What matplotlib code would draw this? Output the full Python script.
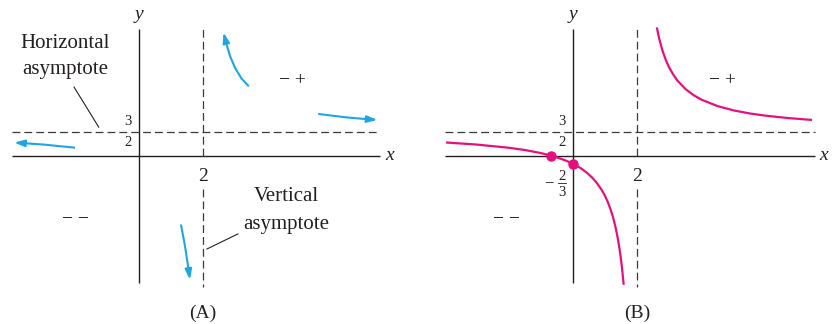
#!/usr/bin/env python3

import matplotlib
matplotlib.use("Agg")
import matplotlib.pyplot as plt

# values
h_asym = 1.5   # horizontal asymptote y = 3/2
v_asym = 2.0   # vertical asymptote x = 2
x_int = -2 / 3
y_int = -0.5

# graph (B): the two branches
left_x = [-3.9, -3.0, -2.0, -1.5, -1.0, -0.667, -0.5, -0.3, -0.15, 0.0, 0.15,
          0.3, 0.45, 0.6, 0.75, 0.9, 1.0, 1.1, 1.18, 1.25, 1.3, 1.35, 1.4,
          1.45, 1.49, 1.52, 1.55, 1.58]
left_y = [0.82, 0.70, 0.50, 0.36, 0.17, 0.0, -0.10, -0.24, -0.36, -0.50,
          -0.66, -0.85, -1.08, -1.36, -1.70, -2.14, -2.50, -2.94, -3.38,
          -3.83, -4.21, -4.65, -5.17, -5.77, -6.34, -6.83, -7.39, -8.0]
right_x = [2.62, 2.64, 2.66, 2.7, 2.75, 2.8, 2.9, 3.0, 3.12, 3.25, 3.5, 3.75,
           4.0, 4.5, 5.0, 5.5, 6.0, 6.7, 7.4]
right_y = [7.95, 7.75, 7.55, 7.21, 6.83, 6.50, 5.94, 5.50, 5.08, 4.70, 4.17,
           3.79, 3.50, 3.10, 2.83, 2.64, 2.50, 2.35, 2.24]

# graph (A): the four arrows showing end behaviour
arrow_up_x = [3.43, 3.2, 3.0, 2.85, 2.73, 2.64]
arrow_up_y = [4.34, 4.83, 5.50, 6.20, 7.00, 7.70]
arrow_right_x = [5.6, 6.5, 7.45]
arrow_right_y = [2.61, 2.39, 2.23]
arrow_left_x = [-2.0, -3.0, -3.9]
arrow_left_y = [0.50, 0.70, 0.82]
arrow_down_x = [1.31, 1.42, 1.51, 1.56, 1.59]
arrow_down_y = [-4.30, -5.45, -6.60, -7.30, -7.75]

BLUE = "#1ea6e0"
MAGENTA = "#e5107f"
INK = "#231f20"
SERIF = "Liberation Serif"

plt.rcParams["font.family"] = SERIF


def setup_axes(fig, rect, x0, sx, width_px, y0=155.7, sy=16.0):
  """Axes whose data units map to fixed pixel scales, origin at (x0, y0) px."""
  ax = fig.add_axes(rect)
  ax.set_xlim(-x0 / sx, (width_px - x0) / sx)
  ax.set_ylim((y0 - 324) / sy, y0 / sy)
  ax.axis("off")
  return ax


def draw_frame(ax, x_right):
  # coordinate axes
  ax.plot([-3.98, 7.53], [0, 0], color=INK, lw=1.0, solid_capstyle="butt")
  ax.plot([0, 0], [-7.96, 7.9], color=INK, lw=1.0, solid_capstyle="butt")
  # asymptotes
  dash = dict(color="#3a3a3a", lw=0.9, dashes=(6.3, 3.2))
  ax.plot([-3.98, 7.53], [h_asym, h_asym], **dash)
  ax.plot([v_asym, v_asym], [0, 8.0], **dash)
  ax.plot([v_asym, v_asym], [-2.05, -8.2], **dash)

  ax.text(0, 8.85, "y", fontsize=14, style="italic", ha="center", va="center", color=INK)
  ax.text(x_right, 0, "x", fontsize=14, style="italic", ha="center", va="center", color=INK)
  ax.text(v_asym, -1.27, "2", fontsize=14, ha="center", va="center", color=INK)
  ax.text(-0.34, 2.12, "3", fontsize=10.5, ha="center", va="center", color=INK)
  ax.text(-0.34, 0.8, "2", fontsize=10.5, ha="center", va="center", color=INK)


def draw_arrow(ax, xs, ys):
  ax.plot(xs[:-1], ys[:-1], color=BLUE, lw=1.5, solid_capstyle="butt")
  ax.annotate("", xy=(xs[-1], ys[-1]), xytext=(xs[-2], ys[-2]),
              arrowprops=dict(arrowstyle="-|>,head_length=0.6,head_width=0.2",
                              color=BLUE, lw=1.5, shrinkA=0, shrinkB=0))


def run():
  fig = plt.figure(figsize=(8.32, 3.24), dpi=100)

  # ---- panel (A)
  ax = setup_axes(fig, [0, 0, 0.5, 1], x0=139.0, sx=32.0, width_px=416)
  draw_frame(ax, 7.84)
  for xs, ys in [(arrow_up_x, arrow_up_y), (arrow_right_x, arrow_right_y),
                 (arrow_left_x, arrow_left_y), (arrow_down_x, arrow_down_y)]:
    draw_arrow(ax, xs, ys)

  ax.text(-2.31, 7.04, "Horizontal", fontsize=15, ha="center", va="center", color=INK)
  ax.text(-2.31, 5.36, "asymptote", fontsize=15, ha="center", va="center", color=INK)
  ax.plot([-2.03, -1.26], [4.29, 1.79], color=INK, lw=0.8)
  ax.text(4.59, -2.58, "Vertical", fontsize=15, ha="center", va="center", color=INK)
  ax.text(4.59, -4.27, "asymptote", fontsize=15, ha="center", va="center", color=INK)
  ax.plot([2.125, 3.09], [-5.83, -4.89], color=INK, lw=0.8)

  ax.text(4.81, 4.73, "\u2212 +", fontsize=14, ha="center", va="center", color=INK)
  ax.text(-2.0, -3.96, "\u2212 \u2212", fontsize=14, ha="center", va="center", color=INK)
  ax.text(2.0, -9.83, "(A)", fontsize=14, ha="center", va="center", color=INK)

  # ---- panel (B)
  ax = setup_axes(fig, [0.5, 0, 0.5, 1], x0=156.7, sx=32.2, width_px=416)
  draw_frame(ax, 7.8)
  ax.plot(left_x, left_y, color=MAGENTA, lw=1.6)
  ax.plot(right_x, right_y, color=MAGENTA, lw=1.6)
  ax.plot([x_int, 0], [0, y_int], "o", color=MAGENTA, ms=6.5, zorder=5)

  ax.text(-0.75, -1.72, "\u2212", fontsize=12, ha="center", va="center", color=INK)
  ax.text(-0.33, -1.27, "2", fontsize=10.5, ha="center", va="center", color=INK)
  ax.plot([-0.45, -0.2], [-1.72, -1.72], color=INK, lw=0.6)
  ax.text(-0.33, -2.3, "3", fontsize=10.5, ha="center", va="center", color=INK)

  ax.text(4.64, 4.73, "\u2212 +", fontsize=14, ha="center", va="center", color=INK)
  ax.text(-2.07, -3.96, "\u2212 \u2212", fontsize=14, ha="center", va="center", color=INK)
  ax.text(2.0, -9.83, "(B)", fontsize=14, ha="center", va="center", color=INK)

  fig.savefig("out.png", dpi=100, facecolor="white")


if __name__ == "__main__":
  run()
